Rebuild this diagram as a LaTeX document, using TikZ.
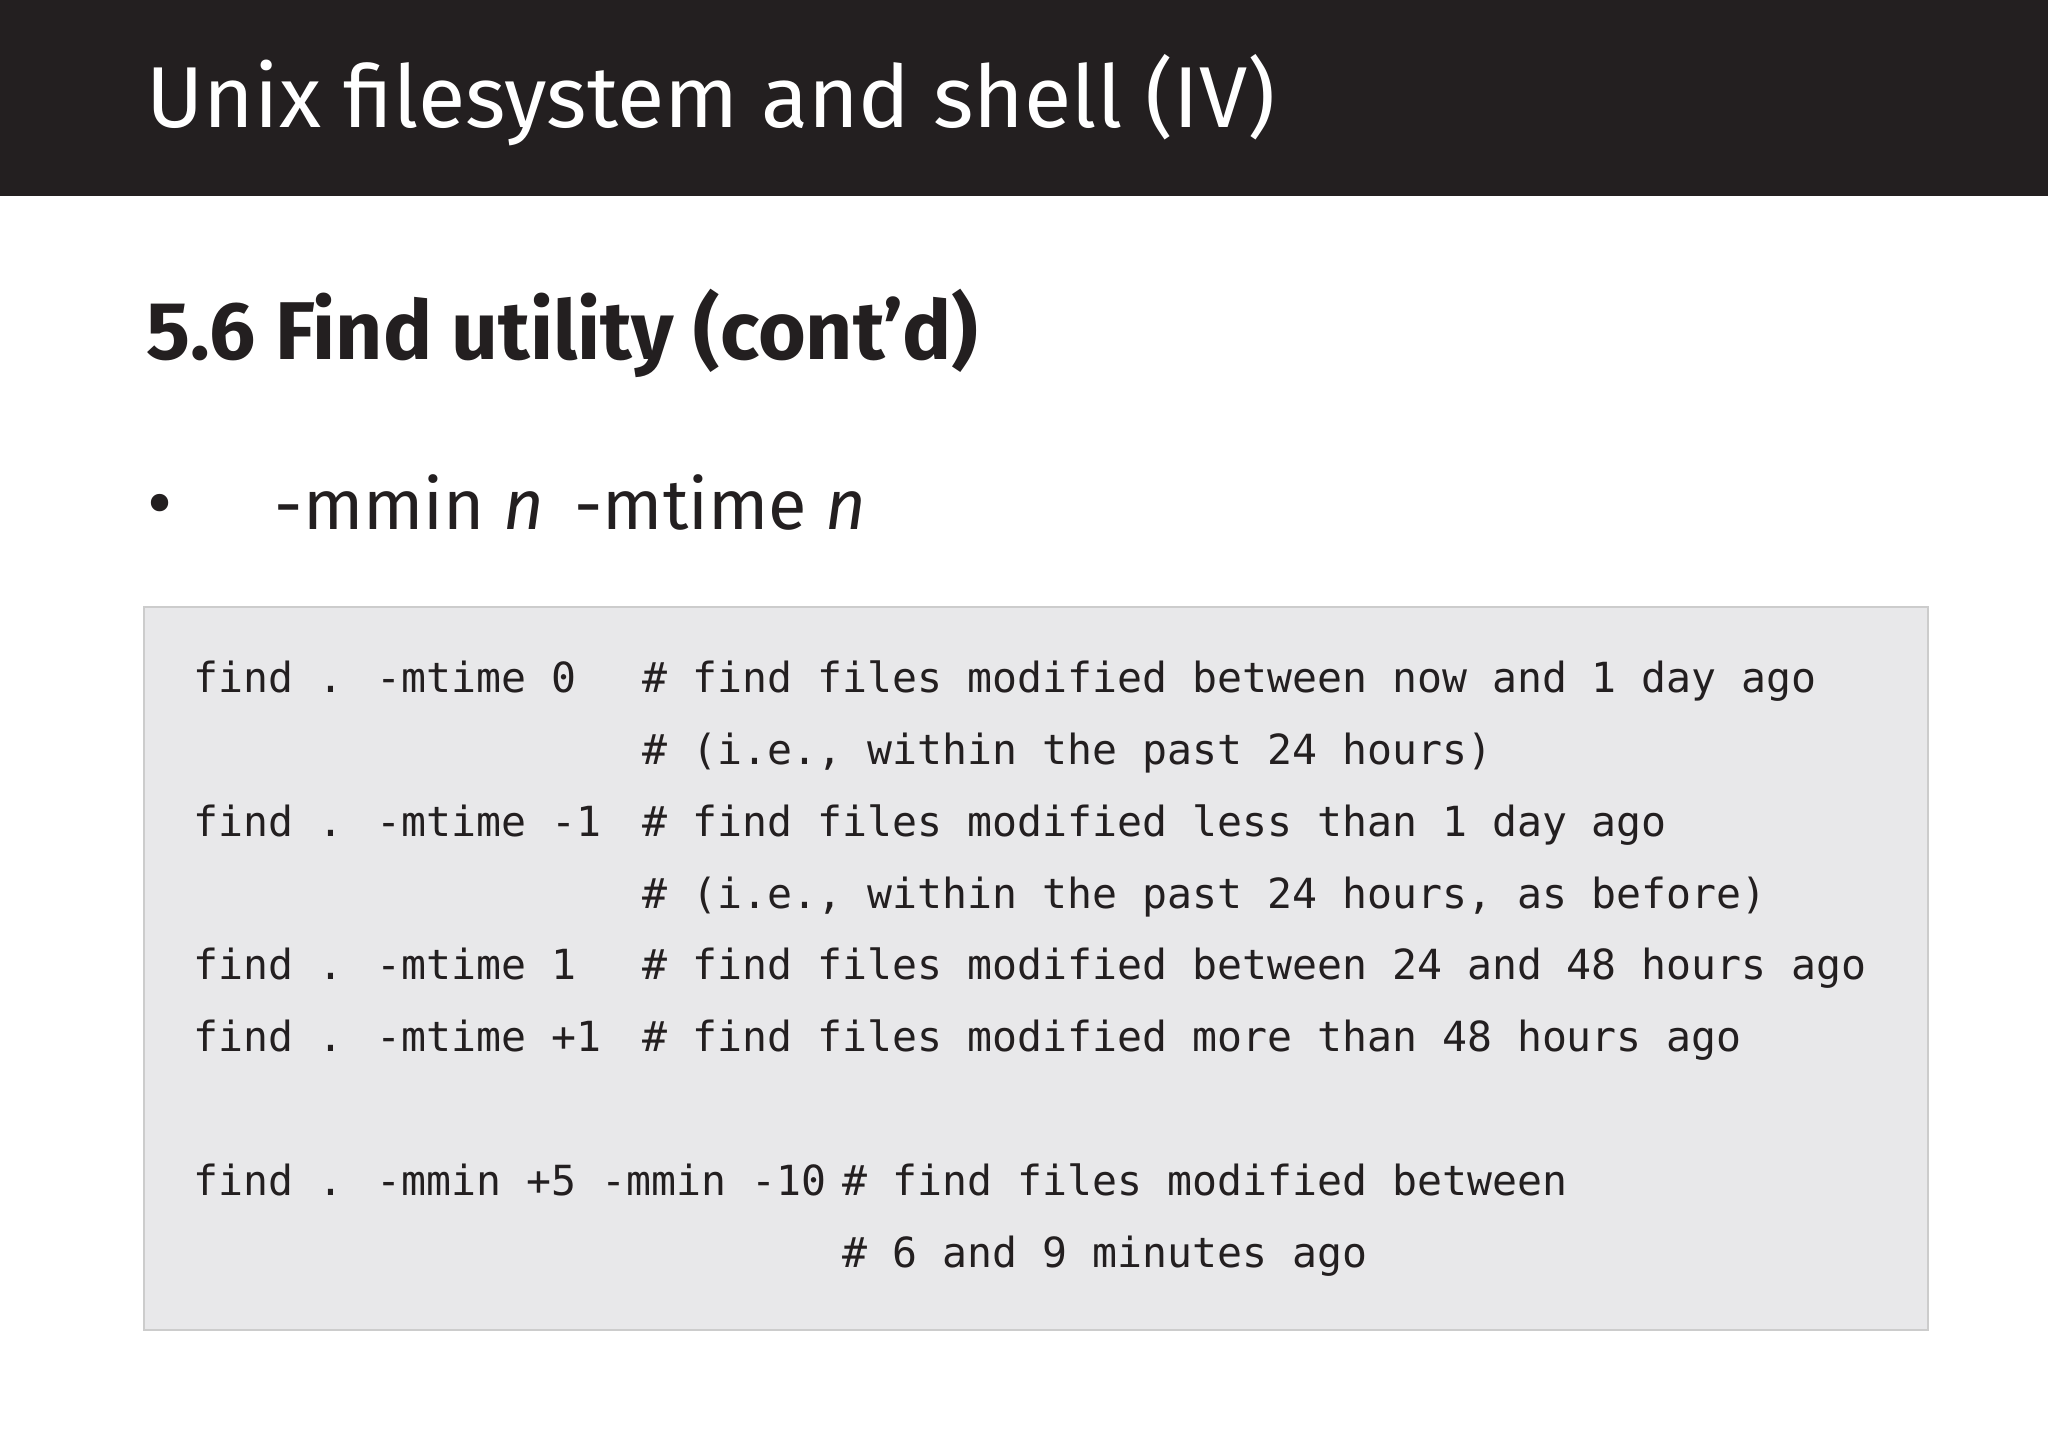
\documentclass[tikz,border=0pt]{standalone}
\usepackage{fontspec}
\setmainfont{Fira Sans}
\newfontfamily\codefont{DejaVu Sans Mono}
\definecolor{hdr}{HTML}{231F20}
\definecolor{boxbg}{HTML}{E8E8EA}
\definecolor{txt}{HTML}{231F20}
\begin{document}
\begin{tikzpicture}[x=0.01cm,y=-0.01cm,
  code/.style={anchor=base west,inner sep=0pt,font=\codefont\fontsize{11.8pt}{14pt}\selectfont,text=txt}]
\useasboundingbox (0,0) rectangle (2048,1448);
\fill[white] (0,0) rectangle (2048,1448);
\fill[hdr] (0,0) rectangle (2048,196);
\node[anchor=base west,inner sep=0pt,text=white,font=\fontsize{24.6pt}{30pt}\selectfont] (title) at (146,127) {Unix filesystem and shell (IV)};
\node[anchor=base west,inner sep=0pt,text=txt,font=\bfseries\fontsize{23.3pt}{28pt}\selectfont] (head) at (146,359) {5.6 Find utility (cont’d)};
\node[anchor=base west,inner sep=0pt,text=txt,font=\fontsize{22pt}{26pt}\selectfont] (bul) at (147,529) {•};
\node[anchor=base west,inner sep=0pt,text=txt,font=\fontsize{20pt}{24pt}\selectfont] (opt) at (274,529) {-mmin \textit{n} \,-mtime \textit{n}};
\draw[fill=boxbg,draw=black!20] (144,607) rectangle (1928,1330);
\node[code] (c1) at (193,692) {find . -mtime 0};
\node[code] (m1) at (642,692) {\# find files modified between now and 1 day ago};
\node[code] (m2) at (642,764) {\# (i.e., within the past 24 hours)};
\node[code] (c3) at (193,836) {find . -mtime -1};
\node[code] (m3) at (642,836) {\# find files modified less than 1 day ago};
\node[code] (m4) at (642,908) {\# (i.e., within the past 24 hours, as before)};
\node[code] (c5) at (193,979) {find . -mtime 1};
\node[code] (m5) at (642,979) {\# find files modified between 24 and 48 hours ago};
\node[code] (c6) at (193,1051) {find . -mtime +1};
\node[code] (m6) at (642,1051) {\# find files modified more than 48 hours ago};
\node[code] (c7) at (193,1195) {find . -mmin +5 -mmin -10};
\node[code] (m7) at (842,1195) {\# find files modified between};
\node[code] (m8) at (842,1267) {\# 6 and 9 minutes ago};
\end{tikzpicture}
\end{document}
